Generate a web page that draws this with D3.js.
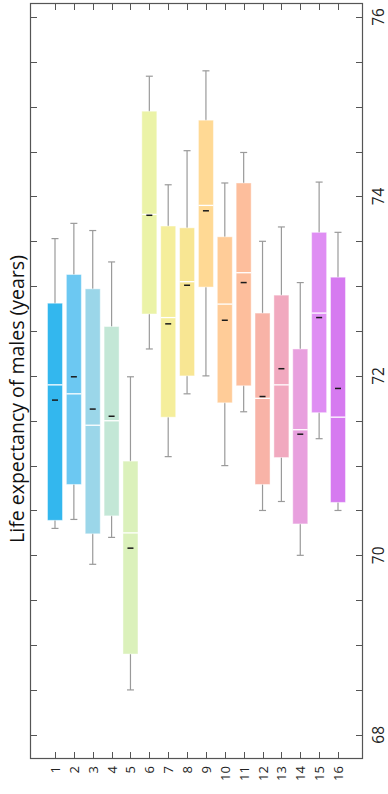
<!DOCTYPE html>
<html>
<head>
<meta charset="utf-8">
<script src="https://cdn.jsdelivr.net/npm/d3@7"></script>
<style>
  body { margin: 0; background: #fff; }
  svg { display: block; font-family: "Open Sans", "Noto Sans", sans-serif; }
</style>
</head>
<body>
<svg id="chart" width="388" height="794"></svg>
<script>
// one box per group, values in years
const groups = ["1","2","3","4","5","6","7","8","9","10","11","12","13","14","15","16"];
const whiskerLow  = [70.30, 70.40, 69.90, 70.20, 68.50, 72.30, 71.10, 71.80, 72.00, 71.00, 71.60, 70.50, 70.60, 70.00, 71.30, 70.50];
const q1          = [70.39, 70.79, 70.24, 70.44, 68.90, 72.69, 71.54, 72.00, 72.99, 71.70, 71.89, 70.79, 71.09, 70.35, 71.59, 70.59];
const median      = [71.90, 71.80, 71.45, 71.50, 70.25, 73.80, 72.65, 73.05, 73.90, 72.80, 73.15, 71.75, 71.90, 71.40, 72.70, 71.54];
const mean        = [71.73, 71.99, 71.63, 71.55, 70.08, 73.79, 72.58, 73.01, 73.84, 72.62, 73.04, 71.77, 72.08, 71.35, 72.65, 71.86];
const q3          = [72.81, 73.13, 72.97, 72.55, 71.05, 74.95, 73.67, 73.65, 74.85, 73.55, 74.15, 72.70, 72.90, 72.30, 73.60, 73.10];
const whiskerHigh = [73.53, 73.70, 73.62, 73.27, 71.99, 75.34, 74.13, 74.51, 75.40, 74.15, 74.49, 73.50, 73.66, 73.04, 74.16, 73.60];
const colors = ["#33b7ee","#6cc8f2","#9bd6e9","#c3e7d6","#dbf1bb","#ebf3a7","#f5ee9b","#f8e693","#ffd994","#ffcc98",
                "#fdbe9c","#f8b3a7","#f1a9bf","#e8a0de","#df8ef3","#d67af0"];
const valueTicks = [68, 70, 72, 74, 76];
const titleText = "Life expectancy of males (years)";

const data = groups.map((g, i) => ({
  g, i, lo: whiskerLow[i], q1: q1[i], med: median[i], mean: mean[i], q3: q3[i], hi: whiskerHigh[i], color: colors[i]
}));

const svg = d3.select("#chart");
const frameL = 30, frameR = 363, frameT = 3, frameB = 759;

const x = d3.scaleLinear().domain([-0.325, 17.325]).range([frameL, frameR]);
const y = d3.scaleLinear().domain([67.73, 76.156]).range([frameB, frameT]);

const boxW = 15;
const capW = 7;

// ticks (inward) on all four sides
const minor = d3.range(68, 76.01, 0.5);
const tickG = svg.append("g").attr("stroke", "#555").attr("stroke-width", 1);
tickG.selectAll(".tl").data(minor).enter().append("line")
  .attr("x1", frameL).attr("x2", frameL + 7)
  .attr("y1", d => Math.round(y(d)) + 0.5).attr("y2", d => Math.round(y(d)) + 0.5);
tickG.selectAll(".tr").data(minor).enter().append("line")
  .attr("x1", frameR).attr("x2", frameR - 7)
  .attr("y1", d => Math.round(y(d)) + 0.5).attr("y2", d => Math.round(y(d)) + 0.5);
tickG.selectAll(".tt").data(data).enter().append("line")
  .attr("x1", d => Math.round(x(d.i + 1)) + 0.5).attr("x2", d => Math.round(x(d.i + 1)) + 0.5)
  .attr("y1", frameT).attr("y2", frameT + 7);
tickG.selectAll(".tb").data(data).enter().append("line")
  .attr("x1", d => Math.round(x(d.i + 1)) + 0.5).attr("x2", d => Math.round(x(d.i + 1)) + 0.5)
  .attr("y1", frameB).attr("y2", frameB - 7);

// whiskers
const wG = svg.append("g").attr("stroke", "#9a9a9a").attr("stroke-width", 1.2);
wG.selectAll(".wl").data(data).enter().append("line")
  .attr("x1", d => x(d.i + 1)).attr("x2", d => x(d.i + 1))
  .attr("y1", d => y(d.lo)).attr("y2", d => y(d.hi));
wG.selectAll(".cl").data(data).enter().append("line")
  .attr("x1", d => x(d.i + 1) - capW / 2).attr("x2", d => x(d.i + 1) + capW / 2)
  .attr("y1", d => y(d.lo)).attr("y2", d => y(d.lo));
wG.selectAll(".ch").data(data).enter().append("line")
  .attr("x1", d => x(d.i + 1) - capW / 2).attr("x2", d => x(d.i + 1) + capW / 2)
  .attr("y1", d => y(d.hi)).attr("y2", d => y(d.hi));

// boxes
svg.append("g").selectAll("rect").data(data).enter().append("rect")
  .attr("x", d => x(d.i + 1) - boxW / 2)
  .attr("width", boxW)
  .attr("y", d => y(d.q3))
  .attr("height", d => y(d.q1) - y(d.q3))
  .attr("fill", d => d.color)
  .attr("stroke", "#fff").attr("stroke-opacity", 0.45).attr("stroke-width", 1);

// median: white line
svg.append("g").selectAll("line").data(data).enter().append("line")
  .attr("x1", d => x(d.i + 1) - boxW / 2).attr("x2", d => x(d.i + 1) + boxW / 2)
  .attr("y1", d => y(d.med)).attr("y2", d => y(d.med))
  .attr("stroke", "#fff").attr("stroke-width", 1.3);

// mean: short black dash
svg.append("g").selectAll("line").data(data).enter().append("line")
  .attr("x1", d => x(d.i + 1) - 3).attr("x2", d => x(d.i + 1) + 3)
  .attr("y1", d => y(d.mean)).attr("y2", d => y(d.mean))
  .attr("stroke", "#1a1a1a").attr("stroke-width", 1.5);

// frame
svg.append("rect")
  .attr("x", frameL + 0.5).attr("y", frameT + 0.5)
  .attr("width", frameR - frameL - 1).attr("height", frameB - frameT - 1)
  .attr("fill", "none").attr("stroke", "#555").attr("stroke-width", 1.2);

// value labels on the right, rotated
svg.append("g").selectAll("text").data(valueTicks).enter().append("text")
  .attr("transform", d => `translate(384,${y(d)}) rotate(-90)`)
  .attr("text-anchor", "middle")
  .attr("font-size", 15.5)
  .attr("fill", "#222")
  .text(d => d);

// category labels at the bottom, rotated
svg.append("g").selectAll("text").data(data).enter().append("text")
  .attr("transform", d => `translate(${x(d.i + 1)},766) rotate(-90)`)
  .attr("text-anchor", "end")
  .attr("dominant-baseline", "central")
  .attr("font-size", 13)
  .attr("fill", "#222")
  .text(d => d.g);

// axis title, sized so it spans about the same length as in the original
const title = svg.append("text")
  .attr("transform", "translate(24,399) rotate(-90)")
  .attr("text-anchor", "middle")
  .attr("font-size", 17)
  .attr("fill", "#111")
  .text(titleText);
const len = title.node().getComputedTextLength();
if (len > 0) title.attr("font-size", Math.min(21, 17 * 288 / len));
</script>
</body>
</html>
